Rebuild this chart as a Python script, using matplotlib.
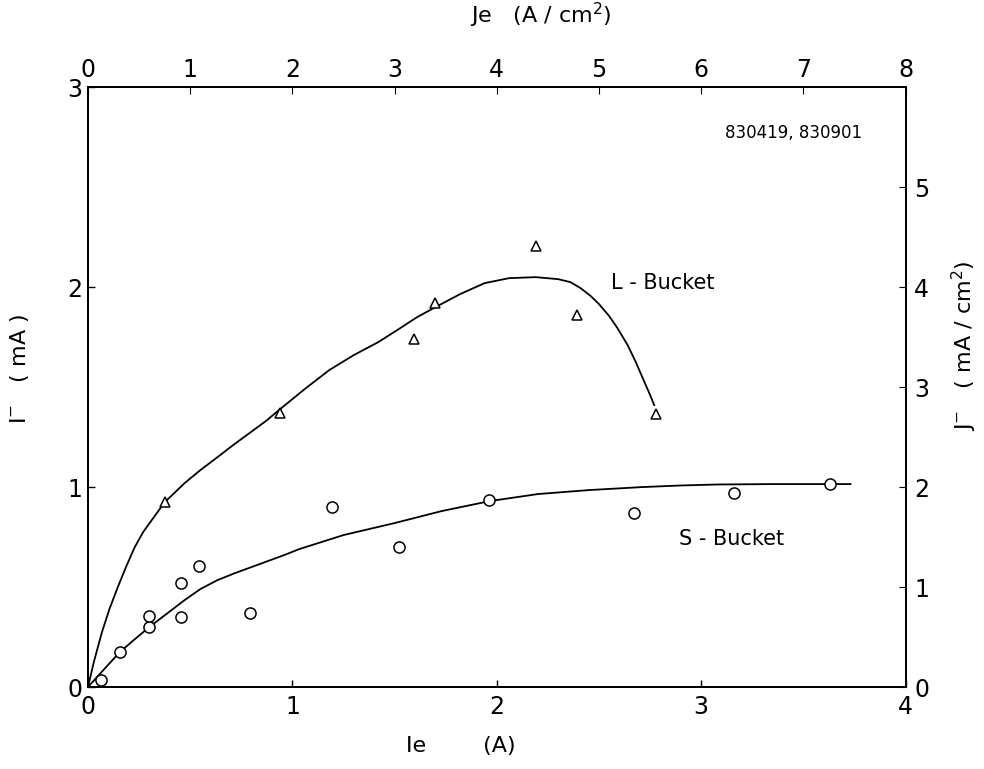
import numpy as np
import matplotlib
matplotlib.use("Agg")
import matplotlib.pyplot as plt

plt.rcParams['font.family'] = ['DejaVu Sans']

# L-Bucket data (triangles) : Ie (A), I- (mA)
l_ie = [0.376, 0.94, 1.595, 1.70, 2.19, 2.39, 2.78]
l_i = [0.925, 1.37, 1.74, 1.92, 2.205, 1.86, 1.365]

# S-Bucket data (circles)
s_ie = [0.063, 0.156, 0.30, 0.30, 0.455, 0.455, 0.545, 0.795, 1.195, 1.52, 1.96, 2.67, 3.16, 3.63]
s_i = [0.035, 0.175, 0.30, 0.355, 0.35, 0.52, 0.605, 0.37, 0.90, 0.70, 0.935, 0.87, 0.97, 1.015]

# hand-drawn fit curves
l_curve_x = [0, 0.03, 0.067, 0.105, 0.146, 0.19, 0.229, 0.27, 0.312, 0.376, 0.473, 0.55, 0.634, 0.71, 0.79, 0.87, 0.94,
             1.06, 1.18, 1.30, 1.42, 1.52, 1.61, 1.70, 1.82, 1.94, 2.06, 2.19, 2.30, 2.36, 2.41, 2.46, 2.50, 2.55, 2.59,
             2.64, 2.68, 2.72, 2.75, 2.77]
l_curve_y = [0, 0.13, 0.27, 0.39, 0.50, 0.61, 0.70, 0.775, 0.835, 0.925, 1.02, 1.085, 1.15, 1.21, 1.27, 1.33, 1.39,
             1.49, 1.585, 1.66, 1.725, 1.79, 1.85, 1.90, 1.965, 2.02, 2.045, 2.05, 2.04, 2.025, 1.995, 1.955, 1.915,
             1.855, 1.795, 1.71, 1.625, 1.53, 1.46, 1.41]

s_curve_x = [0, 0.08, 0.156, 0.23, 0.30, 0.39, 0.473, 0.55, 0.634, 0.72, 0.80, 0.88, 0.96, 1.034, 1.25, 1.50,
             1.73, 1.966, 2.20, 2.45, 2.71, 2.90, 3.08, 3.35, 3.63, 3.73]
s_curve_y = [0, 0.09, 0.175, 0.24, 0.30, 0.37, 0.435, 0.49, 0.535, 0.57, 0.60, 0.63, 0.66, 0.69, 0.76, 0.82,
             0.88, 0.93, 0.965, 0.985, 1.0, 1.008, 1.013, 1.015, 1.015, 1.015]

x_ticks = [0, 1, 2, 3, 4]
y_ticks = [0, 1, 2, 3]
je_ticks = [0, 1, 2, 3, 4, 5, 6, 7, 8]
j_ticks = [0, 1, 2, 3, 4, 5]

fig = plt.figure(figsize=(9.84, 7.69), dpi=100)
ax = fig.add_axes([0.0894, 0.1066, 0.831, 0.780])

ax.plot(l_curve_x, l_curve_y, color='black', lw=1.3)
ax.plot(s_curve_x, s_curve_y, color='black', lw=1.3)
ax.plot(l_ie, l_i, ls='none', marker='^', ms=7, mfc='white', mec='black', mew=1.1)
ax.plot(s_ie, s_i, ls='none', marker='o', ms=8, mfc='white', mec='black', mew=1.1)

ax.set_xlim(0, 4)
ax.set_ylim(0, 3)
ax.set_xticks(x_ticks)
ax.set_yticks(y_ticks)
ax.tick_params(direction='in', length=5, labelsize=17, width=1)
ax.tick_params(axis='x', pad=6)
ax.tick_params(axis='y', pad=4)

ax2 = ax.twinx()
ax2.set_ylim(0, 6)
ax2.set_yticks(j_ticks)
ax2.tick_params(direction='in', length=5, labelsize=17, pad=6)

ax3 = ax.twiny()
ax3.set_xlim(0, 8)
ax3.set_xticks(je_ticks)
ax3.tick_params(direction='in', length=5, labelsize=17, pad=4)

for a in (ax, ax2, ax3):
    for s in a.spines.values():
        s.set_linewidth(1.3)

ax.text(3.45, 2.77, '830419, 830901', fontsize=12, ha='center', va='center')
ax.text(2.56, 2.02, 'L - Bucket', fontsize=15, ha='left', va='center')
ax.text(2.89, 0.74, 'S - Bucket', fontsize=15, ha='left', va='center')

fig.text(0.468, 0.03, 'Ie        (A)', fontsize=16, ha='center', va='center')
fig.text(0.02, 0.52, 'I$^{-}$   ( mA )', fontsize=16, rotation=90, ha='center', va='center')
fig.text(0.98, 0.55, 'J$^{-}$   ( mA / cm$^{2}$)', fontsize=16, rotation=90, ha='center', va='center')
fig.text(0.55, 0.98, 'Je   (A / cm$^{2}$)', fontsize=16, ha='center', va='center')

fig.savefig('out.png', dpi=100)
